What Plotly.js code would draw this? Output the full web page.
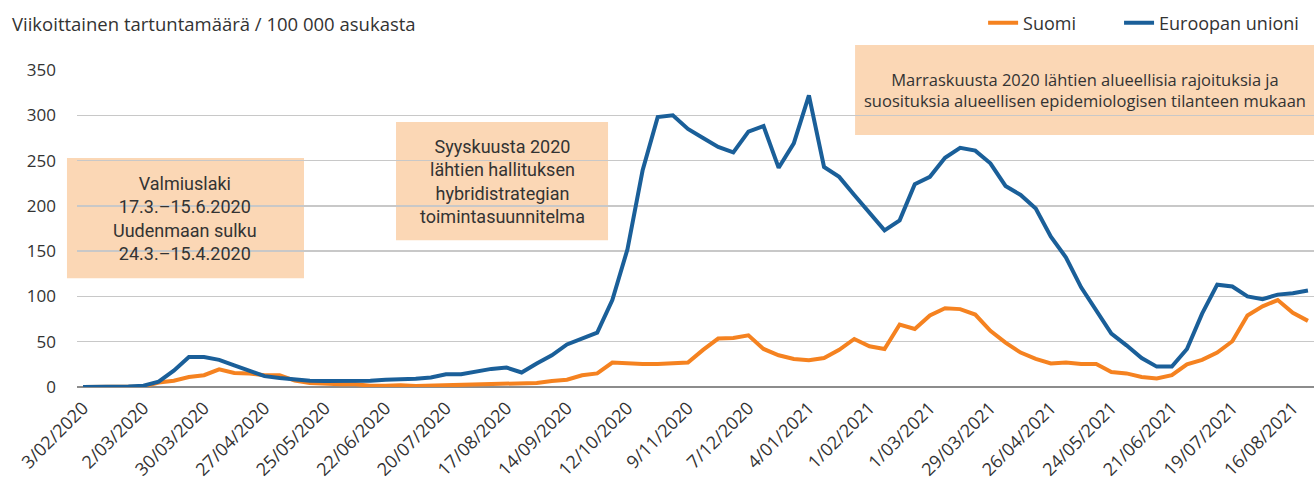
<!DOCTYPE html>
<html>
<head>
<meta charset="utf-8">
<script src="https://cdn.plot.ly/plotly-3.0.1.min.js"></script>
<style>html,body{margin:0;padding:0;background:#fff;}#chart{width:1314px;height:479px;}</style>
</head>
<body>
<div id="chart"></div>
<script>
// Weekly incidence per 100 000 inhabitants, weeks from 3/02/2020 to 23/08/2021
const suomi = [0,0,0,0,0.5,5,7,11,13,19.5,15.5,15,13,13,7,4.5,3.5,3,3,1.5,1.5,2,1,1.5,1.5,2,2.5,3,3.5,3.5,4.5,6.5,8,13,15,27,26,25.5,25.5,26.5,27,41,53.5,54,57,42,35,31,29.5,32,41,53,45,42,69,64,79,87,86,80,62,49,38,31,26,27,25.5,25.5,16.5,15,11,9.5,13,25,30,38,50.5,79,89,96,82,73];
const eu = [0,0,0,0.5,1.5,6,18,33,33,30,24,18,12,10,8,7,6.5,6.5,6.5,7,8,8,9,10.5,14,14,17.5,20,21.5,16,26,35,47,53,60,96,152,239,298,300,285,275,265,259,282,288,242,269,322,243,232,212,193,173,184,224,232,253,264,261,247,222,212,197,166,143,110,84,59,46,32,22.5,22.5,42,81,113,111,100,97,102,103.5,106.5];
const seriesNames = ["Suomi", "Euroopan unioni"];
const tickPositions = [0,4,8,12,16,20,24,28,32,36,40,44,48,52,56,60,64,68,72,76,80];
const tickLabels = ["3/02/2020","2/03/2020","30/03/2020","27/04/2020","25/05/2020","22/06/2020","20/07/2020","17/08/2020","14/09/2020","12/10/2020","9/11/2020","7/12/2020","4/01/2021","1/02/2021","1/03/2021","29/03/2021","26/04/2021","24/05/2021","21/06/2021","19/07/2021","16/08/2021"];
const yTicks = [0,50,100,150,200,250,300,350];
const yTitle = "Viikoittainen tartuntamäärä / 100 000 asukasta";
const box1Text = "Valmiuslaki<br>17.3.–15.6.2020<br>Uudenmaan sulku<br>24.3.–15.4.2020";
const box2Text = "Syyskuusta 2020<br>lähtien hallituksen<br>hybridistrategian<br>toimintasuunnitelma";
const box3Text = "Marraskuusta 2020 lähtien alueellisia rajoituksia ja<br>suosituksia alueellisen epidemiologisen tilanteen mukaan";

const weekIdx = eu.map((_, i) => i);
const ORANGE = "#F58220", BLUE = "#1A5F99", BOXFILL = "#FBD7B5", TXT = "#333333";
const FONT = "Open Sans, Noto Sans, sans-serif";
const NARROW = "Liberation Sans Narrow, Roboto, sans-serif";

const traces = [
  {x: weekIdx, y: suomi, name: seriesNames[0], type: "scatter", mode: "lines",
   line: {color: ORANGE, width: 4}, legend: "legend"},
  {x: weekIdx, y: eu, name: seriesNames[1], type: "scatter", mode: "lines",
   line: {color: BLUE, width: 4}, legend: "legend2"}
];

function box(x0, x1, y0, y1) {
  return {type: "rect", xref: "paper", yref: "paper", x0, x1, y0, y1,
          fillcolor: BOXFILL, line: {width: 0}, layer: "below"};
}

function legendAt(x) {
  return {orientation: "h", x: x, xanchor: "left", y: 1.148, yanchor: "middle",
          font: {family: FONT, size: 18, color: TXT}, bgcolor: "rgba(0,0,0,0)"};
}

const layout = {
  width: 1314, height: 479,
  margin: {l: 77, r: 0, t: 70, b: 92.3, autoexpand: false},
  paper_bgcolor: "#fff", plot_bgcolor: "#fff",
  font: {family: FONT, size: 17, color: TXT},
  showlegend: true,
  hovermode: false,
  legend: legendAt(0.7325),
  legend2: legendAt(0.8424),
  xaxis: {range: [-0.4, 81.4], tickmode: "array", tickvals: tickPositions, ticktext: tickLabels,
          tickangle: -45, showgrid: false, zeroline: false, showline: false, ticks: "",
          ticklabelstandoff: 6, automargin: false,
          tickfont: {family: FONT, size: 18, color: TXT}, fixedrange: true},
  yaxis: {range: [0, 350], tickmode: "array", tickvals: yTicks, showgrid: true,
          gridcolor: "#C8C8C8", gridwidth: 1.5, zeroline: true, zerolinecolor: "#8C8C8C",
          zerolinewidth: 1.5, showline: false, ticks: "", ticklabelstandoff: 20, automargin: false,
          tickfont: {family: FONT, size: 17, color: TXT}, fixedrange: true},
  shapes: [
    box(-0.0081, 0.1835, 0.3432, 0.7221),
    box(0.2579, 0.4293, 0.4632, 0.8358),
    box(0.629, 1.0, 0.7948, 1.079)
  ],
  annotations: [
    {xref: "paper", yref: "paper", x: -0.054, y: 1.148, xanchor: "left", yanchor: "middle",
     text: yTitle, showarrow: false, font: {family: FONT, size: 18.5, color: TXT}},
    {xref: "paper", yref: "paper", x: (-0.0081 + 0.1835) / 2, y: (0.3432 + 0.7221) / 2,
     xanchor: "center", yanchor: "middle", text: box1Text, showarrow: false, align: "center",
     font: {family: NARROW, size: 18, color: TXT}},
    {xref: "paper", yref: "paper", x: (0.2579 + 0.4293) / 2, y: (0.4632 + 0.8358) / 2,
     xanchor: "center", yanchor: "middle", text: box2Text, showarrow: false, align: "center",
     font: {family: NARROW, size: 18, color: TXT}},
    {xref: "paper", yref: "paper", x: (0.629 + 1.0) / 2, y: (0.7948 + 1.079) / 2,
     xanchor: "center", yanchor: "middle", text: box3Text, showarrow: false, align: "center",
     font: {family: FONT, size: 16.5, color: TXT}}
  ]
};

Plotly.newPlot("chart", traces, layout, {staticPlot: true, displayModeBar: false});
</script>
</body>
</html>
